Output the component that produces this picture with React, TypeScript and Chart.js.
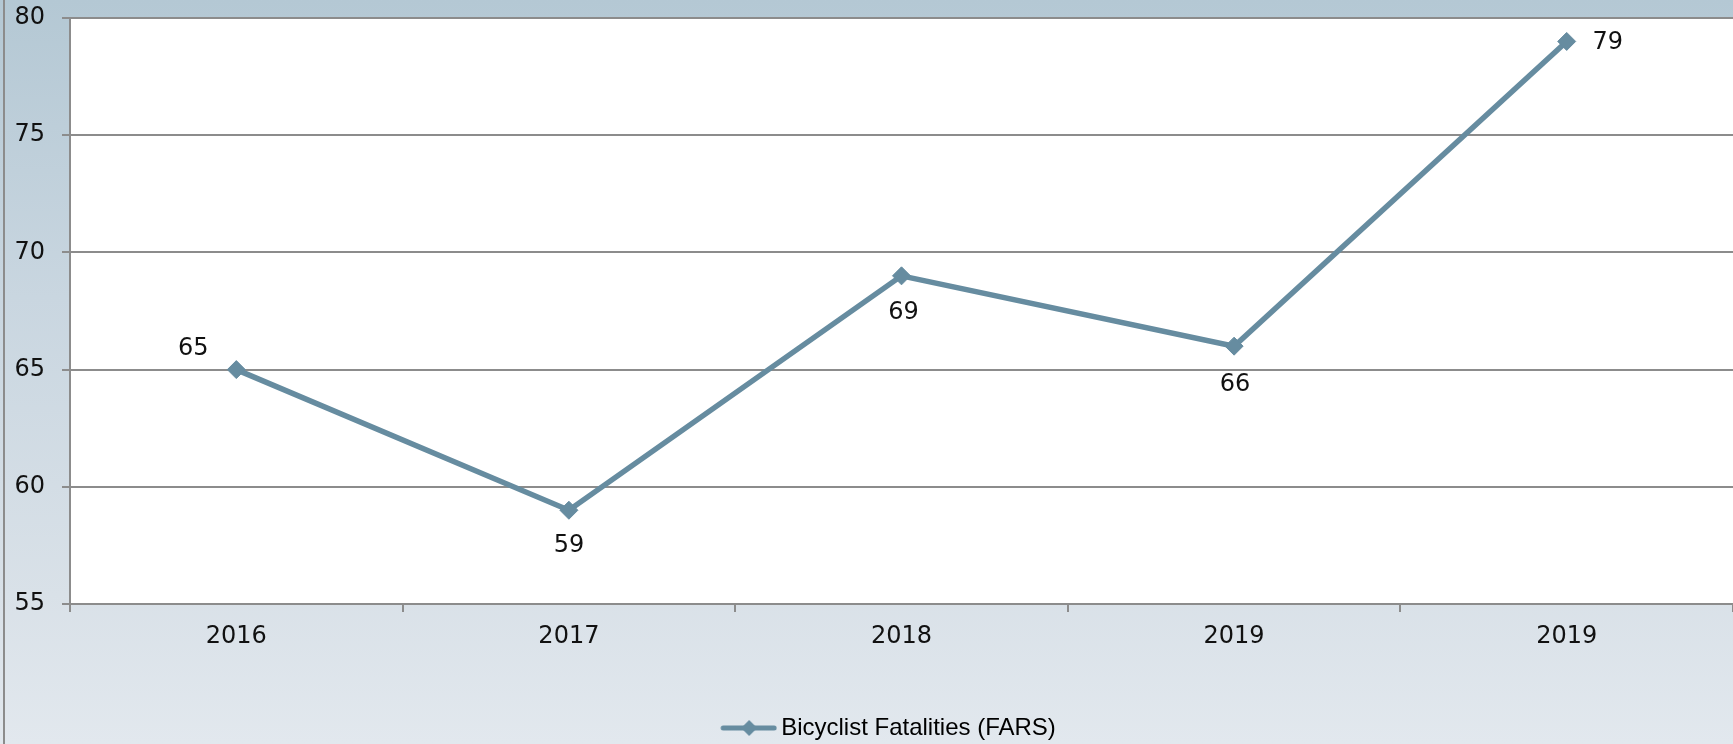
import React, { useEffect, useRef } from "react";
import { Chart, registerables } from "chart.js";

Chart.register(...registerables);

const categories = ["2016", "2017", "2018", "2019", "2019"];
const fatalities = [65, 59, 69, 66, 79];
const seriesLabel = "Bicyclist Fatalities (FARS)";
const yMin = 55;
const yMax = 80;
const yStep = 5;

// label offsets (dx, dy) relative to each point, in px
const labelOffsets: [number, number][] = [
  [-43, -21],
  [0, 36],
  [2, 37],
  [1, 39],
  [41, 1],
];

const LINE_COLOR = "#668ca0";
const GRID_COLOR = "#8c8c8c";
const NUM_FONT = "'DejaVu Sans', sans-serif";
const TEXT_FONT = "'Liberation Sans', Arial, sans-serif";
const LEGEND_BOX = 92;

function makeLegendImage(): HTMLCanvasElement {
  const c = document.createElement("canvas");
  c.width = LEGEND_BOX + 16;
  c.height = 20;
  const ctx = c.getContext("2d")!;
  ctx.strokeStyle = LINE_COLOR;
  ctx.lineWidth = 5;
  ctx.lineCap = "round";
  ctx.beginPath();
  ctx.moveTo(c.width - 54, 10);
  ctx.lineTo(c.width - 3, 10);
  ctx.stroke();
  const cx = c.width - 28;
  ctx.fillStyle = LINE_COLOR;
  ctx.beginPath();
  ctx.moveTo(cx, 2);
  ctx.lineTo(cx + 8, 10);
  ctx.lineTo(cx, 18);
  ctx.lineTo(cx - 8, 10);
  ctx.closePath();
  ctx.fill();
  return c;
}

const whiteArea = {
  id: "whiteArea",
  beforeDraw(chart: any) {
    const { ctx, chartArea } = chart;
    ctx.save();
    ctx.fillStyle = "#ffffff";
    ctx.fillRect(chartArea.left, chartArea.top, chartArea.right - chartArea.left, chartArea.bottom - chartArea.top);
    ctx.restore();
  },
};

const dataLabels = {
  id: "dataLabels",
  afterDatasetsDraw(chart: any) {
    const { ctx } = chart;
    const meta = chart.getDatasetMeta(0);
    ctx.save();
    ctx.font = `24px ${NUM_FONT}`;
    ctx.fillStyle = "#111111";
    ctx.textAlign = "center";
    ctx.textBaseline = "middle";
    meta.data.forEach((pt: any, i: number) => {
      const [dx, dy] = labelOffsets[i];
      ctx.fillText(String(fatalities[i]), pt.x + dx, pt.y + dy);
    });
    ctx.restore();
  },
};

export default function App() {
  const ref = useRef<HTMLCanvasElement>(null);
  useEffect(() => {
    const legendImg = makeLegendImage();
    const chart = new Chart(ref.current!, {
      type: "line",
      data: {
        labels: categories,
        datasets: [
          {
            label: seriesLabel,
            data: fatalities,
            borderColor: LINE_COLOR,
            backgroundColor: LINE_COLOR,
            borderWidth: 5.5,
            tension: 0,
            pointStyle: "rectRot",
            pointRadius: 9,
            pointBackgroundColor: LINE_COLOR,
            pointBorderColor: LINE_COLOR,
            pointBorderWidth: 1,
          },
        ],
      },
      options: {
        animation: false,
        responsive: false,
        devicePixelRatio: 1,
        layout: { autoPadding: false, padding: { top: 18, right: 0, bottom: -6, left: 0 } },
        plugins: {
          tooltip: { enabled: false },
          legend: {
            position: "bottom",
            labels: {
              usePointStyle: true,
              pointStyle: legendImg as any,
              pointStyleWidth: LEGEND_BOX,
              padding: 4,
              color: "#111111",
              font: { size: 24, family: TEXT_FONT },
              generateLabels: () => [
                {
                  text: seriesLabel,
                  pointStyle: legendImg as any,
                  fillStyle: LINE_COLOR,
                  strokeStyle: LINE_COLOR,
                  lineWidth: 0,
                  hidden: false,
                  datasetIndex: 0,
                } as any,
              ],
            },
          },
        },
        scales: {
          x: {
            offset: true,
            grid: {
              offset: true,
              drawOnChartArea: false,
              drawTicks: true,
              tickLength: 8,
              color: GRID_COLOR,
              lineWidth: 2,
            },
            border: { display: true, color: GRID_COLOR, width: 2 },
            ticks: {
              padding: 10,
              color: "#111111",
              font: { size: 24, family: NUM_FONT },
              maxRotation: 0,
              autoSkip: false,
            },
            afterFit: (scale: any) => {
              scale.height = 108;
            },
          },
          y: {
            min: yMin,
            max: yMax,
            grid: {
              color: GRID_COLOR,
              lineWidth: 2,
              tickLength: 8,
              drawTicks: true,
            },
            border: { display: true, color: GRID_COLOR, width: 2 },
            ticks: {
              stepSize: yStep,
              padding: 17,
              color: "#111111",
              font: { size: 24, family: NUM_FONT },
            },
            afterFit: (scale: any) => {
              scale.width = 70;
              scale.paddingTop = 0;
              scale.paddingBottom = 0;
            },
          },
        },
      },
      plugins: [whiteArea, dataLabels],
    });
    return () => chart.destroy();
  }, []);

  return (
    <div
      style={{
        position: "fixed",
        left: 0,
        top: 0,
        width: 1733,
        height: 744,
        background: "linear-gradient(to bottom, #b4c8d4 0%, #c9d6e0 40%, #d9e1e8 80%, #e2e8ee 100%)",
      }}
    >
      <div
        style={{
          position: "absolute",
          left: 3,
          top: 0,
          width: 2,
          height: 744,
          background: GRID_COLOR,
        }}
      />
      <canvas
        ref={ref}
        width={1733}
        height={744}
        style={{ position: "absolute", left: 0, top: 0, width: 1733, height: 744 }}
      />
    </div>
  );
}
